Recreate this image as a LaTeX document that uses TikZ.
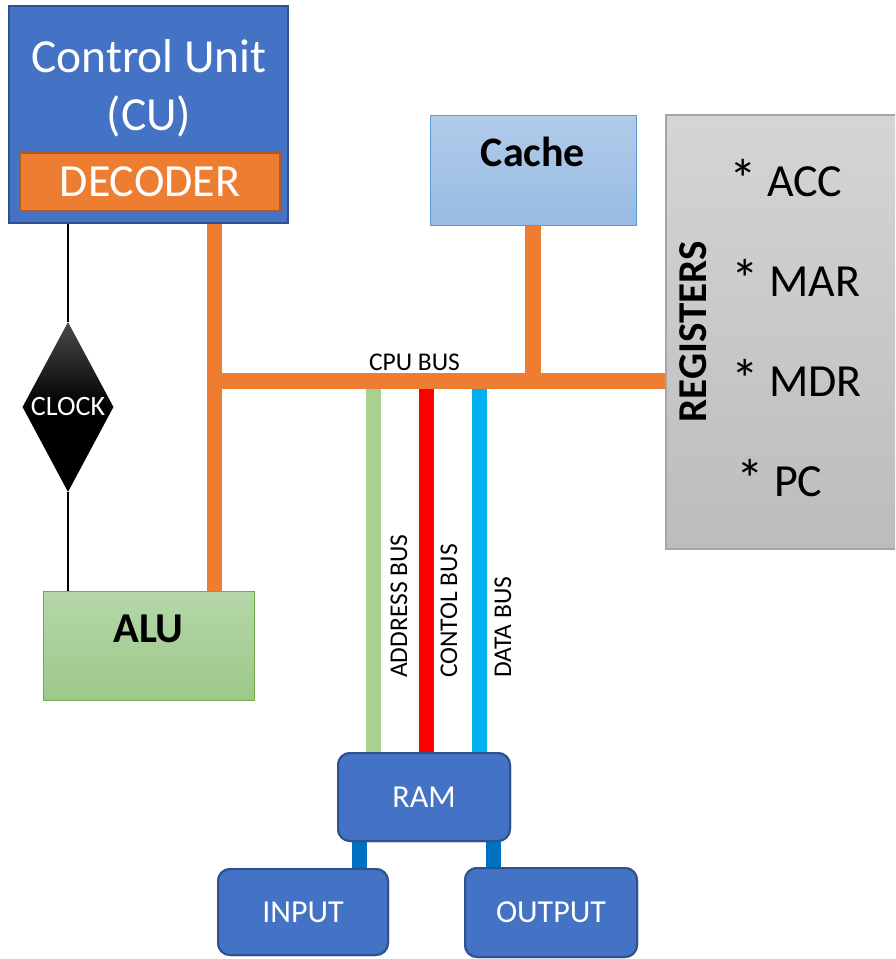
\documentclass[tikz,border=0pt]{standalone}
\usepackage{fontspec}
\setmainfont{Carlito}
\usetikzlibrary{shapes.geometric}
\definecolor{cublue}{HTML}{4472C4}
\definecolor{cuborder}{HTML}{2F528F}
\definecolor{obus}{HTML}{ED7D31}
\definecolor{decborder}{HTML}{AE5A21}
\definecolor{agreen}{HTML}{A9D18E}
\definecolor{cred}{HTML}{FF0000}
\definecolor{dcyan}{HTML}{00B0F0}
\definecolor{iodark}{HTML}{0070C0}
\definecolor{alutop}{HTML}{B5D7A8}
\definecolor{alubot}{HTML}{9DC88A}
\definecolor{aluborder}{HTML}{70AD47}
\definecolor{cachetop}{HTML}{B1CBE9}
\definecolor{cachebot}{HTML}{98BBE4}
\definecolor{cacheborder}{HTML}{5B9BD5}
\definecolor{regtop}{HTML}{D5D5D5}
\definecolor{regbot}{HTML}{BCBCBC}
\definecolor{regborder}{HTML}{A5A5A5}
\definecolor{clocktop}{HTML}{4A4A4A}
\newcommand{\fs}[1]{\fontsize{#1}{#1}\selectfont}
\newcommand{\regstar}{\raisebox{-2pt}{\scalebox{1.2}{*}}}
\tikzset{
  wbus/.style={line width=15.5pt},
  bluebox/.style={draw=cuborder, fill=cublue, line width=2pt, rounded corners=12pt, text=white, font=\fs{32}, inner sep=0pt},
  whitetext/.style={text=white, inner sep=0pt},
  regitem/.style={anchor=base west, inner sep=0pt, font=\fs{46}},
  buslabel/.style={rotate=90, anchor=west, inner sep=0pt, font=\fs{25.5}}
}
\begin{document}
\begin{tikzpicture}[x=1pt,y=-1pt]
\useasboundingbox (0,0) rectangle (895,959);
\clip (0,0) rectangle (895,959);

% boxes (geometry only)
\node[draw=cuborder, fill=cublue, line width=2pt, minimum width=279pt, minimum height=217pt, inner sep=0pt] (cu) at (148.5,114.5) {};
\node[draw=decborder, fill=obus, line width=1.8pt, minimum width=260pt, minimum height=58pt, inner sep=0pt, text=white, font=\fs{46}] (dec) at (150,182) {DECODER};
\node[whitetext, align=center, font=\fontsize{47.5}{58}\selectfont] (cutitle) at (149,88) {Control Unit\\(CU)};

\node[draw=aluborder, line width=1pt, top color=alutop, bottom color=alubot, minimum width=211pt, minimum height=109pt, inner sep=0pt,
      label={[font=\bfseries\fs{42.5}, yshift=17pt, name=alulabel]center:ALU}] (alu) at (148.5,645.5) {};
\node[draw=cacheborder, line width=1pt, top color=cachetop, bottom color=cachebot, minimum width=206pt, minimum height=110pt, inner sep=0pt,
      label={[font=\bfseries\fs{42}, yshift=18pt, name=cachelabel]center:Cache}] (cache) at (533,170) {};
\node[draw=regborder, line width=1.2pt, top color=regtop, bottom color=regbot, minimum width=234pt, minimum height=434pt, inner sep=0pt] (reg) at (783,332) {};
\node[rotate=90, font=\bfseries\fs{41}, inner sep=0pt] (regtitle) at (693,332) {REGISTERS};
\node[regitem] (acc) at (729,196.5) {\regstar{} ACC};
\node[regitem] (mar) at (731,296.5) {\regstar{} MAR};
\node[regitem] (mdr) at (731,396.5) {\regstar{} MDR};
\node[regitem] (pc) at (736,496.5) {\regstar{} PC};

\node[diamond, minimum width=91pt, minimum height=170pt, inner sep=0pt, top color=clocktop, bottom color=black, middle color=black,
      label={[text=white, font=\fs{28}, name=clocklabel]center:CLOCK}] (clock) at (68,407) {};

\node[bluebox, minimum width=172pt, minimum height=88pt] (ram) at (424,797) {RAM};
\node[bluebox, minimum width=170pt, minimum height=86pt] (input) at (303,912) {INPUT};
\node[bluebox, minimum width=172pt, minimum height=89pt] (output) at (551,912.5) {OUTPUT};

% bus anchor points
\coordinate (busL) at (214.5,381);
\coordinate (cachejoin) at (533,381);
\coordinate (abus) at (373.5,381);
\coordinate (cbus) at (426.5,381);
\coordinate (dbus) at (479.5,381);
\coordinate (inlink) at (359.5,797);
\coordinate (outlink) at (493.5,797);

% clock wires
\draw[line width=1.3pt] (clock.north) -- (clock.north |- cu.south);
\draw[line width=1.3pt] (clock.south) -- (clock.south |- alu.north);

% memory buses
\draw[wbus, agreen] (abus) -- (abus |- ram.north);
\draw[wbus, cred] (cbus) -- (cbus |- ram.north);
\draw[wbus, dcyan] (dbus) -- (dbus |- ram.north);

% CPU bus
\draw[wbus, obus] (busL |- cu.south) -- (busL |- alu.north);
\draw[line width=16pt, obus] (busL) -- (reg.west |- busL);
\draw[wbus, obus] (cachejoin |- cache.south) -- (cachejoin);

% IO links
\draw[wbus, iodark] (inlink |- ram.south) -- (inlink |- input.north);
\draw[wbus, iodark] (outlink |- ram.south) -- (outlink |- output.north);

% redraw boxes on top of connectors
\node[draw=cuborder, line width=2pt, minimum width=279pt, minimum height=217pt, inner sep=0pt] at (cu) {};
\node[bluebox, minimum width=172pt, minimum height=88pt] at (ram) {RAM};
\node[bluebox, minimum width=170pt, minimum height=86pt] at (input) {INPUT};
\node[bluebox, minimum width=172pt, minimum height=89pt] at (output) {OUTPUT};

% labels
\node[font=\fs{25.5}, inner sep=0pt] (cpubus) at (414.5,362) {CPU BUS};
\node[buslabel] (addrlabel) at (399,678) {ADDRESS BUS};
\node[buslabel] (ctrllabel) at (449,678) {CONTOL BUS};
\node[buslabel] (datalabel) at (503,678) {DATA BUS};
\end{tikzpicture}
\end{document}
